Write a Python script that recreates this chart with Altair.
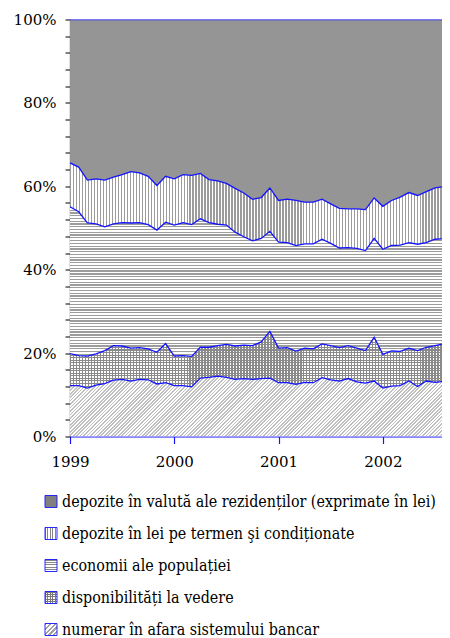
import math
import altair as alt
import numpy as np
import pandas as pd

# ---------------- data (shares in %) ----------------
months = pd.date_range("1999-01-01", periods=45, freq="MS").strftime("%Y-%m").tolist()
year_labels = ["1999", "2000", "2001", "2002"]

numerar = [12.2, 12.2, 11.6, 12.3, 12.7, 13.5, 13.7, 13.3, 13.7, 13.6, 12.6, 12.9,
           12.2, 12.2, 11.9, 14.0, 14.2, 14.5, 14.2, 13.7, 13.9, 13.7, 13.9, 14.0,
           12.9, 12.9, 12.5, 13.0, 12.9, 14.1, 13.6, 13.3, 13.9, 13.1, 12.8, 13.3,
           11.6, 12.1, 12.2, 13.3, 12.0, 13.3, 13.0, 13.2, 13.3]
vedere = [7.7, 7.2, 7.7, 7.5, 7.9, 8.3, 8.0, 7.9, 7.6, 7.4, 7.6, 9.4,
          7.1, 7.2, 7.3, 7.4, 7.2, 7.3, 7.9, 8.0, 8.0, 8.1, 8.8, 11.2,
          8.3, 8.4, 8.0, 8.2, 8.1, 8.1, 8.2, 8.0, 7.9, 8.1, 7.8, 10.5,
          8.1, 8.4, 8.2, 7.9, 8.6, 8.1, 8.8, 9.0, 9.2]
economii = [35.2, 34.5, 31.9, 31.2, 29.7, 29.2, 29.6, 30.0, 30.0, 29.8, 29.3, 29.1,
            31.4, 31.9, 31.6, 30.8, 29.9, 29.1, 28.6, 27.3, 26.0, 25.1, 24.8, 24.0,
            25.4, 25.2, 25.3, 25.0, 25.2, 25.1, 24.5, 23.9, 23.5, 23.9, 24.0, 23.7,
            25.2, 25.3, 25.5, 25.3, 25.5, 25.1, 25.5, 25.2, 25.0]
lei_termen = [10.5, 10.7, 10.3, 10.8, 11.2, 11.2, 11.5, 12.3, 11.9, 11.6, 10.7, 11.0,
              11.1, 11.5, 11.8, 10.9, 10.3, 10.4, 10.0, 10.5, 10.5, 10.0, 9.8, 10.4,
              10.0, 10.4, 10.8, 10.0, 10.0, 9.6, 9.5, 9.5, 9.3, 9.5, 9.8, 9.7,
              10.3, 10.8, 11.5, 12.0, 11.7, 12.2, 12.3, 12.5, 12.3]
valuta = [34.4, 35.4, 38.5, 38.2, 38.5, 37.8, 37.2, 36.5, 36.8, 37.6, 39.8, 37.6,
          38.2, 37.2, 37.4, 36.9, 38.4, 38.7, 39.3, 40.5, 41.6, 43.1, 42.7, 40.4,
          43.4, 43.1, 43.4, 43.8, 43.8, 43.1, 44.2, 45.3, 45.4, 45.4, 45.6, 42.8,
          44.8, 43.4, 42.6, 41.5, 42.2, 41.3, 40.4, 40.1, 40.2]

series_names = [
    "numerar în afara sistemului bancar",
    "disponibilități la vedere",
    "economii ale populației",
    "depozite în lei pe termen şi condiționate",
    "depozite în valută ale rezidenților (exprimate în lei)",
]
series_values = [numerar, vedere, economii, lei_termen, valuta]

# ---------------- layout / style constants ----------------
PX_MONTH = 8.69
PLOT_W, PLOT_H = 372, 417
X_END = PLOT_W / PX_MONTH
BLUE = "#1414ff"
FONT_AX = "DejaVu Serif"
FONT_LEG = "DejaVu Serif Condensed, DejaVu Serif"
FS_AX = 15
FS_LEG = 15.9
PX_PCT = PLOT_H / 100.0

t_index = [(int(m[:4]) - 1999) * 12 + int(m[5:]) - 1 for m in months]

rows = []
for order, (name, vals) in enumerate(zip(series_names, series_values)):
    for t, m, v in zip(t_index, months, vals):
        rows.append({"month": m, "t": t, "series": name, "order": order, "value": v})
df = pd.DataFrame(rows)

cum = np.cumsum(np.array(series_values), axis=0)


def stripe_stops(n, line, bg, frac):
    stops = []
    for k in range(n):
        a, b, c = k / n, (k + frac) / n, (k + 1) / n
        stops += [alt.GradientStop(offset=a, color=line), alt.GradientStop(offset=b, color=line),
                  alt.GradientStop(offset=b, color=bg), alt.GradientStop(offset=c, color=bg)]
    return stops


def vstripes(n, line, bg, frac):
    return alt.Gradient(gradient="linear", x1=0, y1=0, x2=1, y2=0,
                        stops=stripe_stops(n, line, bg, frac))


def hstripes(n, line, bg, frac):
    return alt.Gradient(gradient="linear", x1=0, y1=0, x2=0, y2=1,
                        stops=stripe_stops(n, line, bg, frac))


def dstripes(width, height, n, line, bg, frac):
    c = width * (width + height) / (width ** 2 + height ** 2)
    return alt.Gradient(gradient="linear", x1=0, y1=0, x2=c, y2=c * height / width,
                        stops=stripe_stops(n, line, bg, frac))


GRAY_LINE = "#9c9c9c"
GRID_LINE = "#8a8a8a"
DIAG_LINE = "#c0c0c0"
CHECK = "#959595"
CLEAR = "rgba(255,255,255,0)"

W_AREA = max(t_index) * PX_MONTH
H_num = cum[0].max() * PX_PCT
H_ved = (cum[1].max() - cum[0].min()) * PX_PCT
H_eco = (cum[2].max() - cum[1].min()) * PX_PCT

fill_num = [dstripes(W_AREA, H_num, 128, DIAG_LINE, "white", 0.5)]
fill_ved = [hstripes(int(round(H_ved / 2.6)), GRID_LINE, "white", 0.42),
            vstripes(128, GRID_LINE, CLEAR, 0.5)]
fill_eco = [hstripes(int(round(H_eco / 2.75)), GRAY_LINE, "white", 0.45)]
fill_lei = [vstripes(128, GRAY_LINE, "white", 0.5)]
fill_val = [CHECK]

S = 12
sw_num = [dstripes(S, S, 5, "#a0a0a0", "white", 0.45)]
sw_ved = [hstripes(5, "#777777", "white", 0.45), vstripes(5, "#777777", CLEAR, 0.45)]
sw_eco = [hstripes(5, "#888888", "white", 0.45)]
sw_lei = [vstripes(5, "#888888", "white", 0.45)]
sw_val = ["#808080"]

fills = [fill_num, fill_ved, fill_eco, fill_lei, fill_val]
swatches = [sw_num, sw_ved, sw_eco, sw_lei, sw_val]

# ---------------- plot ----------------
x_enc = alt.X("t:Q", scale=alt.Scale(domain=[0, X_END], nice=False, zero=False),
              axis=alt.Axis(values=[0, 12, 24, 36],
                            labelExpr="'' + (1999 + datum.value / 12)",
                            title=None, grid=False, domainColor=BLUE, domainWidth=1.2,
                            tickColor=BLUE, tickSize=7, tickWidth=1.2, labelPadding=11,
                            labelFont=FONT_AX, labelFontSize=FS_AX, labelColor="black",
                            labelFlush=False))
y_scale = alt.Scale(domain=[0, 100], nice=False, zero=True)
y_axis = alt.Axis(values=list(range(0, 101, 4)),
                  labelExpr="datum.value % 20 == 0 ? datum.value + '%' : ''",
                  title=None, grid=False, domainColor="#24247a", domainWidth=1.3,
                  tickColor="black", tickSize=5, tickWidth=1, labelPadding=9,
                  labelFont=FONT_AX, labelFontSize=FS_AX, labelColor="black", labelFlush=False)

base = alt.Chart(df).transform_stack(
    stack="value", groupby=["t"], sort=[alt.SortField("order")], as_=["y0", "y1"])

layers = []
for name, fl in zip(series_names, fills):
    for f in fl:
        layers.append(
            base.transform_filter(alt.datum.series == name)
            .mark_area(fill=f, clip=True, interpolate="linear", strokeWidth=0)
            .encode(x=x_enc, y=alt.Y("y0:Q", scale=y_scale, axis=y_axis), y2="y1:Q")
        )

lines = base.mark_line(color=BLUE, strokeWidth=1.3, clip=True).encode(
    x=x_enc, y=alt.Y("y1:Q", scale=y_scale, axis=y_axis), detail="series:N")
layers.append(lines)

plot = alt.layer(*layers).properties(width=PLOT_W, height=PLOT_H)

# ---------------- legend ----------------
legend_order = list(reversed(series_names))
leg_df = pd.DataFrame({"label": series_names, "order": list(range(len(series_names)))})
y_leg = alt.Y("label:N", sort=legend_order, axis=None, scale=alt.Scale(padding=0.25))
leg_base = alt.Chart(leg_df)
leg_layers = []
for name, sw in zip(series_names, swatches):
    for k, f in enumerate(sw):
        last = k == len(sw) - 1
        leg_layers.append(
            leg_base.transform_filter(alt.datum.label == name)
            .mark_square(size=S * S, filled=True, fill=f, opacity=1,
                         stroke=BLUE if last else "transparent",
                         strokeWidth=0.9 if last else 0)
            .encode(x=alt.value(-19), y=y_leg)
        )
leg_layers.append(
    leg_base.mark_text(align="left", baseline="middle", font=FONT_LEG, fontSize=FS_LEG, color="black")
    .encode(x=alt.value(-8), y=y_leg, text="label:N")
)
legend = alt.layer(*leg_layers).properties(width=PLOT_W, height=144)

chart = alt.vconcat(plot, legend, spacing=24).properties(
    padding={"left": 5, "top": 4.5, "right": 0, "bottom": 0}
).configure_view(stroke=None)

chart.save("out.html", embed_options={"renderer": "svg", "actions": False})
